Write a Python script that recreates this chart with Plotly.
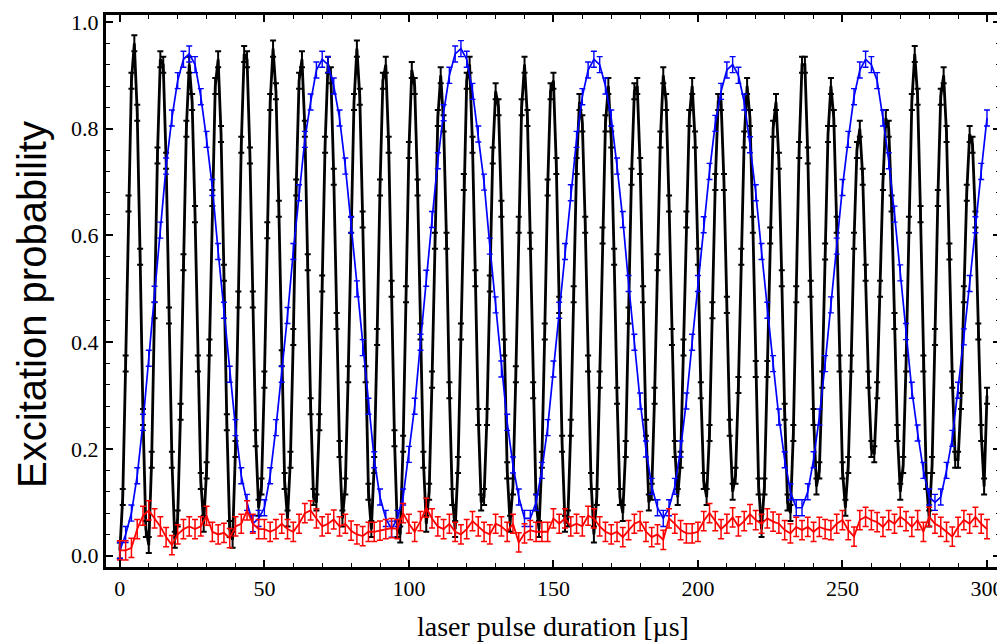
import numpy as np
import plotly.graph_objects as go

# ---- data ----
# black series: sampled every 1 us, t = 0..300
black = [
    0.01, 0.11, 0.36, 0.66, 0.89, 0.96, 0.83, 0.56, 0.26, 0.05,
    0.02, 0.18, 0.46, 0.75, 0.93, 0.92, 0.74, 0.45, 0.18, 0.03,
    0.07, 0.27, 0.55, 0.80, 0.92, 0.85, 0.64, 0.36, 0.14, 0.06,
    0.16, 0.39, 0.67, 0.88, 0.93, 0.79, 0.53, 0.25, 0.05, 0.03,
    0.20, 0.48, 0.77, 0.94, 0.93, 0.75, 0.48, 0.22, 0.09, 0.13,
    0.33, 0.61, 0.85, 0.95, 0.87, 0.65, 0.37, 0.14, 0.07, 0.18,
    0.41, 0.69, 0.89, 0.93, 0.80, 0.55, 0.28, 0.11, 0.10, 0.25,
    0.51, 0.77, 0.92, 0.90, 0.71, 0.44, 0.20, 0.07, 0.13, 0.34,
    0.62, 0.85, 0.95, 0.86, 0.63, 0.34, 0.12, 0.05, 0.17, 0.41,
    0.69, 0.89, 0.92, 0.77, 0.50, 0.22, 0.05, 0.04, 0.21, 0.49,
    0.76, 0.91, 0.88, 0.69, 0.42, 0.18, 0.06, 0.12, 0.33, 0.59,
    0.82, 0.90, 0.81, 0.59, 0.31, 0.11, 0.05, 0.17, 0.42, 0.70,
    0.89, 0.92, 0.77, 0.52, 0.26, 0.10, 0.11, 0.26, 0.51, 0.75,
    0.87, 0.84, 0.65, 0.39, 0.16, 0.06, 0.13, 0.34, 0.62, 0.84,
    0.92, 0.82, 0.59, 0.31, 0.10, 0.05, 0.18, 0.42, 0.69, 0.87,
    0.89, 0.73, 0.47, 0.21, 0.06, 0.07, 0.24, 0.49, 0.73, 0.85,
    0.81, 0.62, 0.36, 0.14, 0.04, 0.11, 0.33, 0.60, 0.81, 0.88,
    0.78, 0.56, 0.30, 0.11, 0.08, 0.20, 0.45, 0.71, 0.87, 0.88,
    0.73, 0.49, 0.24, 0.10, 0.12, 0.30, 0.55, 0.78, 0.90, 0.85,
    0.66, 0.41, 0.20, 0.11, 0.18, 0.39, 0.63, 0.82, 0.88, 0.78,
    0.56, 0.31, 0.14, 0.11, 0.23, 0.46, 0.70, 0.85, 0.85, 0.70,
    0.47, 0.24, 0.12, 0.15, 0.32, 0.56, 0.78, 0.88, 0.82, 0.62,
    0.35, 0.13, 0.05, 0.13, 0.35, 0.60, 0.80, 0.85, 0.74, 0.52,
    0.27, 0.10, 0.08, 0.23, 0.49, 0.76, 0.92, 0.92, 0.75, 0.50,
    0.26, 0.13, 0.16, 0.33, 0.57, 0.79, 0.88, 0.82, 0.62, 0.36,
    0.16, 0.09, 0.17, 0.36, 0.59, 0.76, 0.80, 0.71, 0.53, 0.33,
    0.20, 0.19, 0.31, 0.50, 0.70, 0.82, 0.80, 0.66, 0.44, 0.23,
    0.12, 0.17, 0.36, 0.62, 0.85, 0.94, 0.86, 0.64, 0.36, 0.14,
    0.07, 0.17, 0.41, 0.67, 0.86, 0.90, 0.79, 0.57, 0.33, 0.18,
    0.18, 0.29, 0.49, 0.68, 0.79, 0.77, 0.63, 0.42, 0.23, 0.13,
    0.30,
]
# blue series: sampled every 2 us, t = 0..300
blue = [
    0.01, 0.04, 0.08, 0.15, 0.25, 0.37, 0.49, 0.61, 0.73, 0.82,
    0.89, 0.93, 0.94, 0.92, 0.86, 0.78, 0.69, 0.57, 0.46, 0.34,
    0.24, 0.15, 0.10, 0.06, 0.07, 0.09, 0.15, 0.24, 0.34, 0.45,
    0.57, 0.68, 0.78, 0.85, 0.91, 0.93, 0.92, 0.88, 0.82, 0.73,
    0.62, 0.50, 0.39, 0.28, 0.18, 0.11, 0.07, 0.05, 0.07, 0.11,
    0.19, 0.28, 0.40, 0.52, 0.63, 0.74, 0.83, 0.90, 0.94, 0.95,
    0.93, 0.87, 0.79, 0.70, 0.58, 0.47, 0.35, 0.25, 0.17, 0.11,
    0.07, 0.07, 0.10, 0.16, 0.24, 0.35, 0.46, 0.57, 0.68, 0.78,
    0.86, 0.91, 0.93, 0.92, 0.88, 0.82, 0.73, 0.63, 0.51, 0.40,
    0.29, 0.20, 0.13, 0.09, 0.07, 0.09, 0.13, 0.20, 0.29, 0.40,
    0.51, 0.62, 0.72, 0.81, 0.87, 0.91, 0.92, 0.90, 0.85, 0.77,
    0.68, 0.57, 0.46, 0.36, 0.26, 0.18, 0.12, 0.09, 0.09, 0.12,
    0.18, 0.26, 0.36, 0.47, 0.58, 0.69, 0.78, 0.86, 0.91, 0.93,
    0.92, 0.89, 0.82, 0.74, 0.64, 0.53, 0.42, 0.31, 0.23, 0.16,
    0.11, 0.10, 0.11, 0.16, 0.22, 0.31, 0.41, 0.51, 0.62, 0.72,
    0.82,
]
# red series: sampled every 2 us, t = 0..300
red = [
    0.010, 0.010, 0.015, 0.050, 0.075, 0.085, 0.070, 0.055, 0.035, 0.020,
    0.040, 0.050, 0.055, 0.050, 0.055, 0.075, 0.045, 0.040, 0.043, 0.033,
    0.055, 0.060, 0.085, 0.060, 0.050, 0.050, 0.045, 0.050, 0.060, 0.050,
    0.045, 0.060, 0.080, 0.085, 0.070, 0.055, 0.060, 0.068, 0.055, 0.060,
    0.047, 0.040, 0.037, 0.045, 0.045, 0.047, 0.050, 0.052, 0.050, 0.080,
    0.060, 0.045, 0.065, 0.090, 0.070, 0.055, 0.050, 0.060, 0.045, 0.040,
    0.050, 0.065, 0.055, 0.045, 0.040, 0.060, 0.055, 0.045, 0.060, 0.025,
    0.042, 0.048, 0.045, 0.045, 0.045, 0.070, 0.060, 0.070, 0.055, 0.060,
    0.055, 0.075, 0.070, 0.055, 0.045, 0.040, 0.045, 0.035, 0.048, 0.060,
    0.065, 0.045, 0.035, 0.040, 0.030, 0.070, 0.060, 0.048, 0.042, 0.042,
    0.045, 0.065, 0.080, 0.065, 0.050, 0.060, 0.072, 0.055, 0.065, 0.078,
    0.067, 0.060, 0.070, 0.064, 0.060, 0.048, 0.042, 0.054, 0.048, 0.054,
    0.045, 0.054, 0.050, 0.048, 0.060, 0.067, 0.048, 0.036, 0.067, 0.073,
    0.067, 0.063, 0.054, 0.067, 0.060, 0.073, 0.065, 0.054, 0.067, 0.045,
    0.073, 0.060, 0.054, 0.045, 0.036, 0.054, 0.067, 0.060, 0.073, 0.060,
    0.050,
]
black_err = 0.015
blue_err = 0.015
red_err = 0.018

x_ticks = [0, 50, 100, 150, 200, 250, 300]
y_ticks = [0.0, 0.2, 0.4, 0.6, 0.8, 1.0]

t_black = np.arange(len(black)) * 1.0
t_blue = np.arange(len(blue)) * 2.0
t_red = np.arange(len(red)) * 2.0

fig = go.Figure()
fig.add_trace(go.Scatter(
    x=t_black, y=black, mode="lines",
    line=dict(color="black", width=2.8),
    error_y=dict(type="constant", value=black_err, color="black", thickness=2, width=3),
    showlegend=False,
))
fig.add_trace(go.Scatter(
    x=t_blue, y=blue, mode="lines",
    line=dict(color="#0000ff", width=1.7),
    error_y=dict(type="constant", value=blue_err, color="#0000ff", thickness=1.4, width=3),
    showlegend=False,
))
fig.add_trace(go.Scatter(
    x=t_red, y=red, mode="lines",
    line=dict(color="#ff0000", width=1.8),
    error_y=dict(type="constant", value=red_err, color="#ff0000", thickness=1.5, width=3),
    showlegend=False,
))

tickfont = dict(family="Liberation Serif", size=22, color="black")
fig.update_layout(
    width=997, height=636,
    margin=dict(l=98, r=2, t=3, b=77),
    plot_bgcolor="white", paper_bgcolor="white",
    xaxis=dict(
        range=[-4.8, 304.5], tickvals=x_ticks, ticktext=[str(v) for v in x_ticks],
        ticks="inside", ticklen=7, tickwidth=1.5, tickcolor="black",
        mirror="allticks", showline=True, linewidth=3, linecolor="black",
        showgrid=False, zeroline=False, tickfont=tickfont,
        ticklabeloverflow="allow",
        minor=dict(ticks="inside", dtick=10, tick0=0, ticklen=4, tickwidth=1, tickcolor="black"),
    ),
    yaxis=dict(
        range=[-0.021, 1.013], tickvals=y_ticks, ticktext=["%.1f" % v for v in y_ticks],
        ticks="inside", ticklen=7, tickwidth=1.5, tickcolor="black",
        mirror="allticks", showline=True, linewidth=3, linecolor="black",
        showgrid=False, zeroline=False, tickfont=tickfont,
        ticklabeloverflow="allow",
        minor=dict(ticks="inside", dtick=0.04, tick0=0, ticklen=4, tickwidth=1, tickcolor="black"),
    ),
    annotations=[
        dict(text="Excitation probability", xref="paper", yref="paper",
             x=-0.082, y=0.476, xanchor="center", yanchor="middle", textangle=-90,
             showarrow=False, font=dict(family="Liberation Sans", size=40, color="black")),
        dict(text="laser pulse duration [µs]", xref="paper", yref="paper",
             x=0.5, y=-0.108, xanchor="center", yanchor="middle",
             showarrow=False, font=dict(family="Liberation Serif", size=28, color="black")),
    ],
)

fig.write_html("out.html")
